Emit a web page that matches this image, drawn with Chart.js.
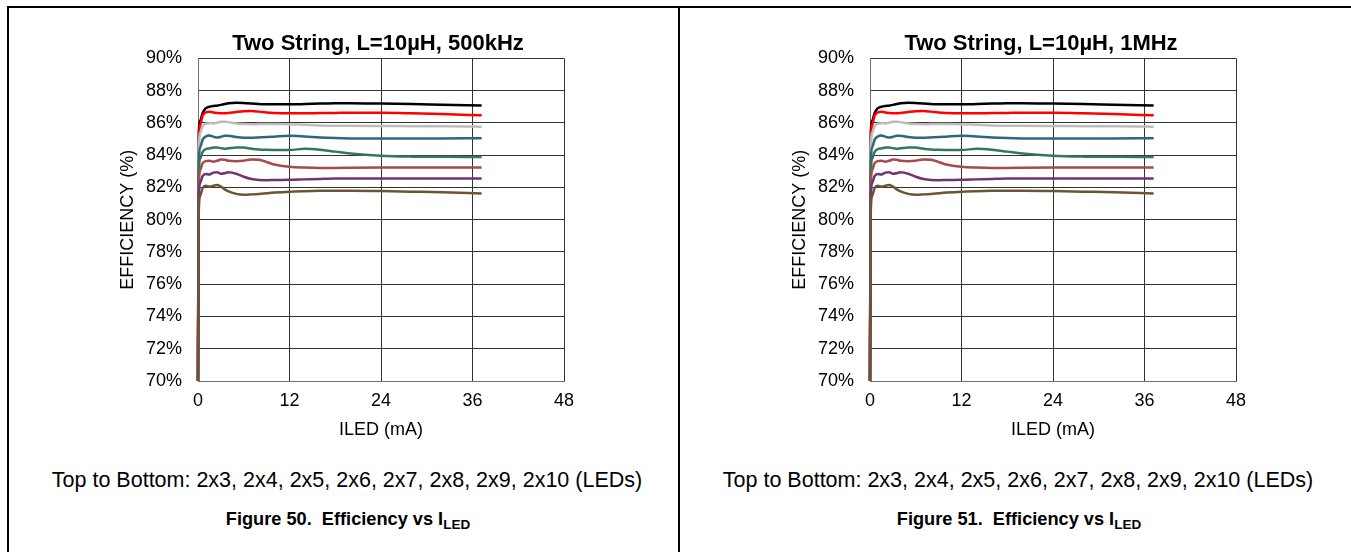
<!DOCTYPE html>
<html>
<head>
<meta charset="utf-8">
<script src="https://cdn.jsdelivr.net/npm/chart.js@4.4.1/dist/chart.umd.min.js"></script>
<style>
  body { margin: 0; background: #fff; width: 1351px; height: 552px; position: relative; overflow: hidden;
         font-family: 'Liberation Sans', Arial, sans-serif; color: #000; }
  .line { position: absolute; background: #000; }
  canvas { position: absolute; }
  .note { position: absolute; width: 640px; text-align: center; font-size: 21.5px; white-space: nowrap; }
  .fig { position: absolute; width: 600px; text-align: center; font-size: 18.2px; font-weight: bold; }
  .fig span { font-size: 13.5px; position: relative; top: 4px; }
</style>
</head>
<body>
<div class="line" style="left:7px; top:6px; width:1344px; height:2px;"></div>
<div class="line" style="left:7px; top:6px; width:2px; height:546px;"></div>
<div class="line" style="left:678px; top:6px; width:2px; height:546px;"></div>

<canvas id="c1" width="556" height="431" style="left:100px; top:10px;"></canvas>
<canvas id="c2" width="538" height="431" style="left:772px; top:10px;"></canvas>

<div class="note" style="left:27px; top:468px;">Top to Bottom: 2x3, 2x4, 2x5, 2x6, 2x7, 2x8, 2x9, 2x10 (LEDs)</div>
<div class="fig" style="left:48px; top:509px;">Figure 50.&nbsp; Efficiency vs I<span>LED</span></div>
<div class="note" style="left:698px; top:468px;">Top to Bottom: 2x3, 2x4, 2x5, 2x6, 2x7, 2x8, 2x9, 2x10 (LEDs)</div>
<div class="fig" style="left:719px; top:509px;">Figure 51.&nbsp; Efficiency vs I<span>LED</span></div>

<script>
// ILED (mA) sample points, shared by all curves
var iled = [0, 0.1, 0.3, 0.6, 1, 1.5, 2, 2.5, 3, 3.5, 4, 5, 6, 7, 8, 9, 10, 12, 14, 16, 18, 20, 24, 28, 32, 37.2];

// efficiency (%) top to bottom
var eff2x3  = [70, 85.4, 86.15, 86.6, 86.9, 87.0, 87.05, 87.07, 87.12, 87.17, 87.22, 87.25, 87.24, 87.2, 87.17, 87.15, 87.15, 87.15, 87.17, 87.2, 87.22, 87.22, 87.2, 87.17, 87.13, 87.08];
var eff2x4  = [70, 84.8, 85.9, 86.45, 86.65, 86.7, 86.65, 86.62, 86.6, 86.6, 86.62, 86.68, 86.73, 86.74, 86.7, 86.65, 86.62, 86.6, 86.6, 86.61, 86.62, 86.63, 86.63, 86.6, 86.55, 86.47];
var eff2x5  = [70, 84.5, 85.4, 85.8, 85.95, 85.98, 85.97, 86.02, 86.07, 86.08, 86.05, 85.97, 85.93, 85.92, 85.93, 85.93, 85.93, 85.92, 85.88, 85.84, 85.82, 85.82, 85.81, 85.8, 85.79, 85.77];
var eff2x6  = [70, 83.5, 84.5, 84.95, 85.15, 85.22, 85.15, 85.09, 85.13, 85.2, 85.2, 85.12, 85.08, 85.08, 85.1, 85.12, 85.15, 85.2, 85.16, 85.1, 85.06, 85.04, 85.03, 85.03, 85.04, 85.05];
var eff2x7  = [70, 82.8, 83.8, 84.2, 84.38, 84.42, 84.47, 84.48, 84.43, 84.4, 84.43, 84.48, 84.47, 84.4, 84.35, 84.33, 84.32, 84.32, 84.4, 84.34, 84.22, 84.1, 83.96, 83.91, 83.9, 83.89];
var eff2x8  = [70, 82.0, 83.1, 83.5, 83.63, 83.66, 83.6, 83.65, 83.73, 83.72, 83.65, 83.63, 83.66, 83.73, 83.72, 83.58, 83.42, 83.28, 83.23, 83.21, 83.21, 83.22, 83.23, 83.23, 83.23, 83.23];
var eff2x9  = [70, 81.3, 82.3, 82.7, 82.84, 82.8, 82.92, 82.94, 82.85, 82.88, 82.94, 82.85, 82.66, 82.52, 82.46, 82.45, 82.46, 82.47, 82.5, 82.53, 82.55, 82.55, 82.55, 82.55, 82.55, 82.55];
var eff2x10 = [70, 80.5, 81.5, 81.95, 82.1, 82.05, 82.1, 82.15, 82.05, 81.88, 81.76, 81.6, 81.55, 81.57, 81.6, 81.64, 81.68, 81.74, 81.77, 81.79, 81.8, 81.8, 81.78, 81.74, 81.7, 81.62];

var seriesNames = ['2x3', '2x4', '2x5', '2x6', '2x7', '2x8', '2x9', '2x10'];
var seriesData = [eff2x3, eff2x4, eff2x5, eff2x6, eff2x7, eff2x8, eff2x9, eff2x10];
var seriesColors = ['#000000', '#ff0000', '#bdbdbd', '#2f6680', '#2f7a5c', '#a84a47', '#6f3472', '#6e5433'];

var yTicks = [70, 72, 74, 76, 78, 80, 82, 84, 86, 88, 90];
var xTicks = [0, 12, 24, 36, 48];

var fontFam = "'Liberation Sans', Arial, sans-serif";

function makeChart(id, titleText, rightPad) {
  var datasets = [];
  // bottom curve first so it ends up drawn on top at the x=0 rise
  for (var i = seriesData.length - 1; i >= 0; i--) {
    var pts = [];
    for (var j = 0; j < iled.length; j++) {
      pts.push({x: iled[j], y: seriesData[i][j]});
    }
    datasets.push({
      label: seriesNames[i],
      data: pts,
      borderColor: seriesColors[i],
      borderWidth: 2.5,
      pointRadius: 0,
      fill: false,
      clip: 4,
      cubicInterpolationMode: 'monotone'
    });
  }

  return new Chart(document.getElementById(id), {
    type: 'line',
    data: {datasets: datasets},
    options: {
      responsive: false,
      animation: false,
      layout: {padding: 0},
      plugins: {
        legend: {display: false},
        tooltip: {enabled: false},
        title: {
          display: true,
          text: titleText,
          color: '#000',
          font: {family: fontFam, size: 22, weight: 'bold'},
          padding: {top: 21, bottom: 1}
        }
      },
      scales: {
        x: {
          type: 'linear',
          min: 0, max: 48,
          afterBuildTicks: function (s) { s.ticks = xTicks.map(function (v) { return {value: v}; }); },
          afterFit: function (s) { s.height = 60; },
          ticks: {color: '#000', padding: 9, font: {family: fontFam, size: 18}},
          grid: {color: '#333333', lineWidth: 1, drawTicks: false},
          border: {color: '#707070', width: 1},
          title: {display: true, text: 'ILED (mA)', color: '#000', font: {family: fontFam, size: 18}, padding: {top: 4, bottom: 0}}
        },
        y: {
          min: 70, max: 90,
          afterBuildTicks: function (s) { s.ticks = yTicks.map(function (v) { return {value: v}; }); },
          afterFit: function (s) { s.width = 98; },
          ticks: {color: '#000', padding: 16, font: {family: fontFam, size: 18},
                  callback: function (v) { return v + '%'; }},
          grid: {color: '#333333', lineWidth: 1, drawTicks: false},
          border: {color: '#707070', width: 1},
          title: {display: true, text: 'EFFICIENCY (%)', color: '#000', font: {family: fontFam, size: 18}, padding: {top: 17, bottom: 0}}
        },
        yr: {
          position: 'right',
          display: true,
          afterFit: function (s) { s.width = rightPad; },
          ticks: {display: false},
          grid: {display: false, drawTicks: false},
          border: {display: false}
        }
      }
    }
  });
}

makeChart('c1', 'Two String, L=10\u00b5H, 500kHz', 92);
makeChart('c2', 'Two String, L=10\u00b5H, 1MHz', 74);
</script>
</body>
</html>
